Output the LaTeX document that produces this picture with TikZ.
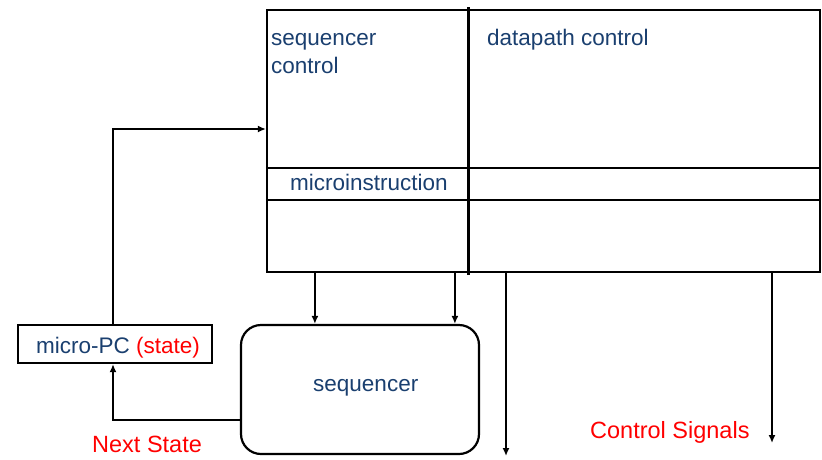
\documentclass[tikz,border=0pt]{standalone}
\usepackage{fontspec}
\setmainfont{Liberation Sans}
\usetikzlibrary{arrows.meta}
\definecolor{txtblue}{RGB}{26,63,111}
\definecolor{txtred}{RGB}{255,0,0}
\tikzset{
  boxline/.style={draw=black, line width=2.2pt},
  arr/.style={draw=black, line width=2pt, -{Latex[length=8pt,width=7pt]}},
  lbl/.style={text=txtblue, font=\fontsize{22.5}{27}\selectfont, inner sep=0pt, anchor=base west},
  redlbl/.style={text=txtred, font=\fontsize{23.5}{28}\selectfont, inner sep=0pt, anchor=base west},
}
\begin{document}
\begin{tikzpicture}[x=1pt,y=-1pt]
\useasboundingbox (0,0) rectangle (822,459);
% main control store box
\node[boxline, rectangle, minimum width=553pt, minimum height=262pt, inner sep=0pt] (main) at (543.5,141) {};
\coordinate (dtop) at (468,7);
\coordinate (dbot) at (468,275);
\draw[line width=3pt] (dtop) -- (dbot);
\draw[line width=2pt] (main.west |- 0,168) -- (main.east |- 0,168);
\draw[line width=2pt] (main.west |- 0,200) -- (main.east |- 0,200);
\node[lbl] (sc1) at (271,45) {sequencer};
\node[lbl] (sc2) at (271,73) {control};
\node[lbl] (dp) at (487,45) {datapath control};
\node[lbl] (mi) at (290,190) {microinstruction};
% micro-PC
\node[boxline, rectangle, minimum width=194pt, minimum height=38pt, inner sep=0pt] (upc) at (115,344) {};
\node[lbl] (upct) at (36,353) {micro-PC \textcolor{txtred}{(state)}};
% sequencer
\node[boxline, rectangle, rounded corners=20pt, minimum width=238pt, minimum height=129pt, inner sep=0pt] (seq) at (360,389.5) {};
\node[lbl] (seqt) at (313,391) {sequencer};
% arrows
\draw[arr] ([xshift=-2pt]upc.north) |- (main.west |- 0,129);
\draw[arr] ([xshift=49pt]main.south west) -- ([xshift=75pt]seq.north west);
\draw[arr] ([xshift=189pt]main.south west) -- ([xshift=215pt]seq.north west);
\coordinate (cs1) at (506,456);
\coordinate (cs2) at (772,443);
\draw[arr] (cs1 |- main.south) -- (cs1);
\draw[arr] (cs2 |- main.south) -- (cs2);
\draw[arr] ([yshift=-30.5pt]seq.west) -| ([xshift=-2pt]upc.south);
% red labels
\node[redlbl] (ns) at (92,452) {Next State};
\node[redlbl] (cs) at (590,438) {Control Signals};
\end{tikzpicture}
\end{document}
